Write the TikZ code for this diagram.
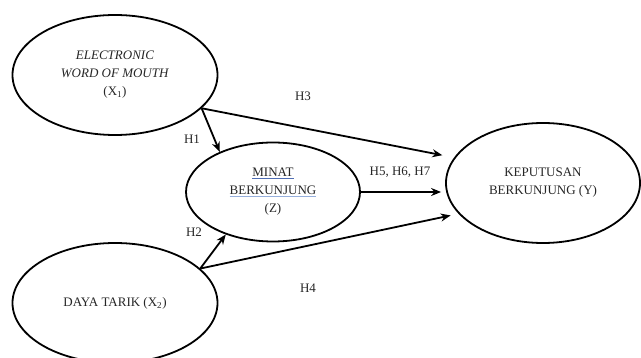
\documentclass[tikz,border=0pt]{standalone}
\usepackage{fontspec}
\setmainfont{Liberation Serif}
\usetikzlibrary{shapes.geometric,arrows.meta}
\definecolor{lineblue}{RGB}{80,110,180}
\definecolor{ulblue}{RGB}{150,175,220}

\begin{document}
\begin{tikzpicture}[x=1pt, y=-1pt,
    var/.style={ellipse, draw, line width=1.8pt, inner sep=0pt, align=center, text=black!85, font=\fontsize{13}{18}\selectfont},
    hyp/.style={-{Stealth[length=10pt,width=8pt]}, line width=1.8pt},
    lbl/.style={text=black!85, font=\fontsize{13}{15}\selectfont}]
    \useasboundingbox (0,0) rectangle (641,358);
    % variables
    \node[var, minimum width=205pt, minimum height=120pt] (x1) at (115,75) {\textit{ELECTRONIC}\\\textit{WORD OF MOUTH}\\(X\textsubscript{1})};
    \node[var, minimum width=174pt, minimum height=99pt] (z) at (273,192) {{\color{lineblue}\underline{\color{black!85}MINAT}}\\{\color{ulblue}\underline{\color{black!85}BERKUNJUNG}}\\(Z)};
    \node[var, minimum width=194pt, minimum height=120pt] (y) at (543,183) {KEPUTUSAN\\BERKUNJUNG (Y)};
    \node[var, minimum width=205pt, minimum height=120pt] (x2) at (115,303) {DAYA TARIK (X\textsubscript{2})};
    % hypotheses
    \draw[hyp] (x1.-21) -- (z.143);
    \draw[hyp, shorten >=12pt] (x1.-21) -- (y.164);
    \draw[hyp, shorten >=4pt] (z.east) -- (y.west |- z.east);
    \draw[hyp] (x2.22) -- (z.222);
    \draw[hyp, shorten >=8pt] (x2.22) -- (y.200);
    % labels
    \node[lbl] (h1) at (192,139) {H1};
    \node[lbl] (h2) at (194,232) {H2};
    \node[lbl] (h3) at (303,96) {H3};
    \node[lbl] (h4) at (308,288) {H4};
    \node[lbl] (h567) at (400,172) {H5, H6, H7};
\end{tikzpicture}
\end{document}
